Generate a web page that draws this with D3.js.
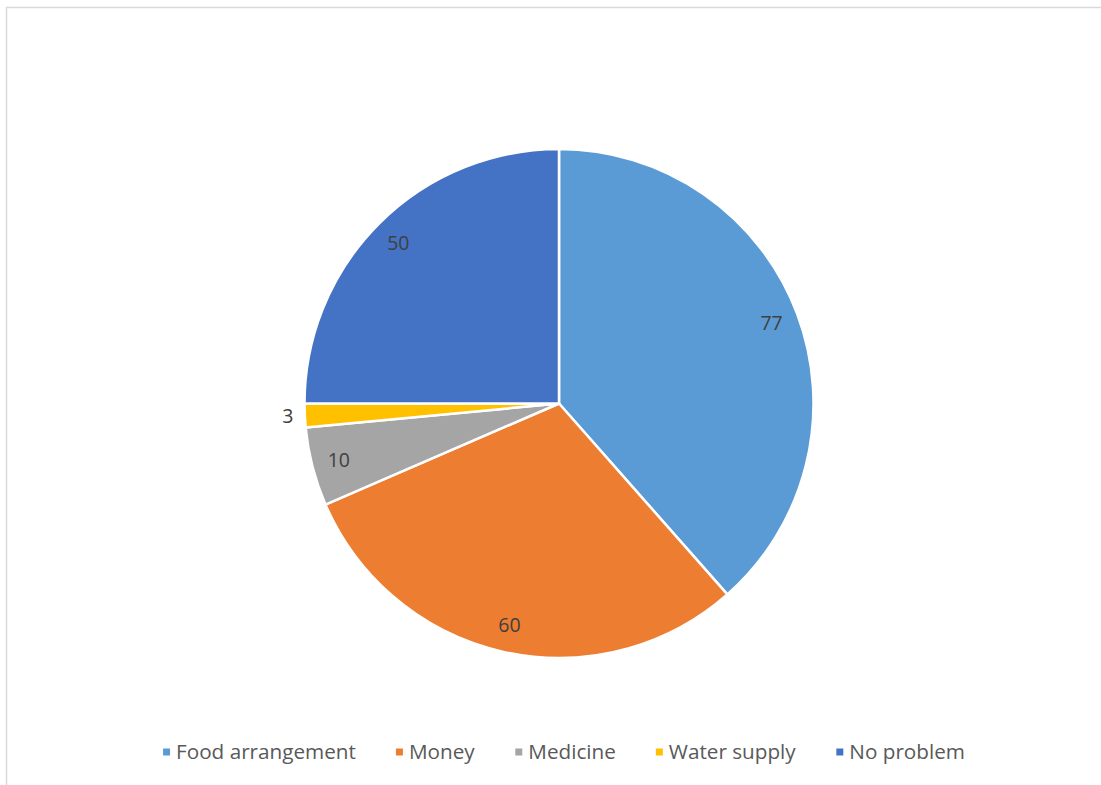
<!DOCTYPE html>
<html><head><meta charset="utf-8">
<script src="https://cdn.jsdelivr.net/npm/d3@7"></script>
<style>body{margin:0;background:#fff}svg{display:block}</style>
</head><body><svg id="c" width="1101" height="785"></svg>
<script>
const categories = ["Food arrangement", "Money", "Medicine", "Water supply", "No problem"];
const values = [77, 60, 10, 3, 50];
const colors = ["#5B9BD5", "#ED7D31", "#A5A5A5", "#FFC000", "#4472C4"];

const svg = d3.select("#c");
const font = "'Open Sans', sans-serif";

svg.append("rect").attr("x", 6.5).attr("y", 7.5).attr("width", 1300).attr("height", 1000)
  .attr("fill", "#fff").attr("stroke", "#d9d9d9").attr("stroke-width", 1.5);

const cx = 559, cy = 403.5, R = 254.5;
const data = categories.map((c, i) => ({cat: c, v: values[i], col: colors[i]}));
const pie = d3.pie().value(d => d.v).sort(null);
const arcs = pie(data);
const arc = d3.arc().innerRadius(0).outerRadius(R);
const total = d3.sum(values);

const g = svg.append("g").attr("transform", `translate(${cx},${cy})`);
g.selectAll("path").data(arcs).join("path")
  .attr("d", arc).attr("fill", d => d.data.col)
  .attr("stroke", "#fff").attr("stroke-width", 2.5).attr("stroke-linejoin", "round");

g.selectAll("text.lbl").data(arcs).join("text").attr("class", "lbl")
  .attr("transform", d => {
    const small = d.data.v / total < 0.03;
    const r = small ? R + 17 : R * 0.893;
    const a = (d.startAngle + d.endAngle) / 2;
    return `translate(${r * Math.sin(a)},${-r * Math.cos(a)})`;
  })
  .attr("text-anchor", "middle").attr("dy", "0.36em")
  .attr("font-family", font).attr("font-size", 19.5).attr("fill", "#404040")
  .text(d => d.data.v);

// legend
const lg = svg.append("g");
const items = lg.selectAll("g").data(data).join("g");
items.append("rect").attr("width", 7).attr("height", 7).attr("y", -3.5).attr("fill", d => d.col);
items.append("text").attr("x", 13).attr("dy", "0.36em")
  .attr("font-family", font).attr("font-size", 20.7).attr("fill", "#595959").text(d => d.cat);
let x = 0; const gap = 40;
items.each(function() {
  const w = this.getBBox().width;
  d3.select(this).attr("transform", `translate(${x},0)`);
  x += w + gap;
});
const totalW = x - gap;
lg.attr("transform", `translate(${564 - totalW / 2},752)`);
</script></body></html>
